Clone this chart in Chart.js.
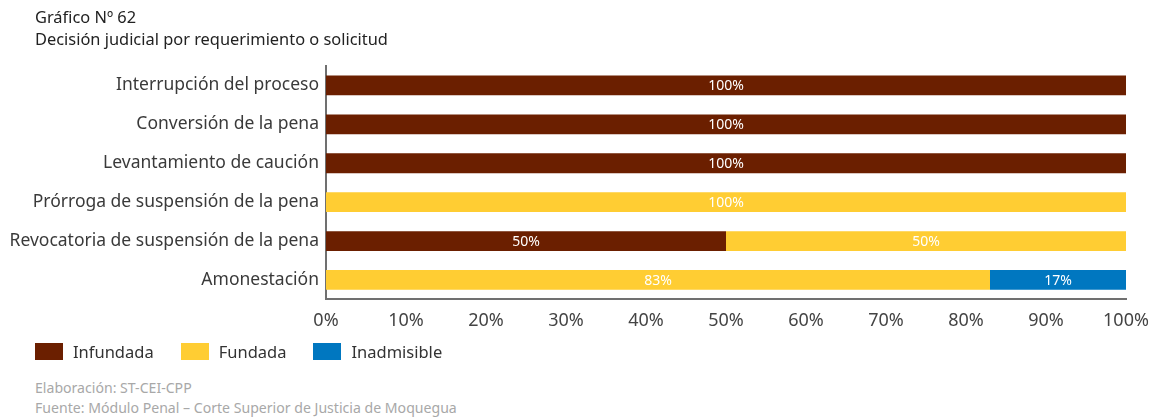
<!DOCTYPE html>
<html>
<head>
<meta charset="utf-8">
<script src="https://cdn.jsdelivr.net/npm/chart.js@4.4.1/dist/chart.umd.min.js"></script>
<style>
  body { margin: 0; background: #fff; font-family: "Noto Sans", sans-serif; }
  #wrap { position: relative; width: 1156px; height: 418px; }
  .txt { position: absolute; left: 35px; white-space: nowrap; }
  #t1 { top: 5px; font-size: 16.4px; color: #222; }
  #t2 { top: 27px; font-size: 16.4px; color: #222; }
  #f1 { top: 378px; font-size: 14.1px; color: #a8a8a8; }
  #f2 { top: 398px; font-size: 14.1px; color: #a8a8a8; }
  #legend { position: absolute; left: 35px; top: 340px; display: flex; font-size: 16.5px; color: #333; }
  #legend .item { display: flex; align-items: center; margin-right: 27px; }
  #legend .box { width: 28px; height: 17px; margin-right: 10px; }
  canvas { position: absolute; left: 0; top: 0; }
</style>
</head>
<body>
<div id="wrap">
  <canvas id="chartBar" width="1156" height="347"></canvas>
  <div class="txt" id="t1">Gráfico Nº 62</div>
  <div class="txt" id="t2">Decisión judicial por requerimiento o solicitud</div>
  <div id="legend"></div>
  <div class="txt" id="f1">Elaboración: ST-CEI-CPP</div>
  <div class="txt" id="f2">Fuente: Módulo Penal – Corte Superior de Justicia de Moquegua</div>
</div>
<script>
var categories = [
    "Interrupción del proceso",
    "Conversión de la pena",
    "Levantamiento de caución",
    "Prórroga de suspensión de la pena",
    "Revocatoria de suspensión de la pena",
    "Amonestación"
];
var infundada = [100, 100, 100, 0, 50, 0];
var fundada = [0, 0, 0, 100, 50, 83];
var inadmisible = [0, 0, 0, 0, 0, 17];
var xTicks = [0, 10, 20, 30, 40, 50, 60, 70, 80, 90, 100];

var fontFamily = '"Noto Sans", sans-serif';

// etiquetas blancas dentro de cada barra
var barLabels = {
    id: 'barLabels',
    afterDatasetsDraw: function (chart) {
        var ctx = chart.ctx;
        ctx.save();
        ctx.font = '14px ' + fontFamily;
        ctx.fillStyle = '#ffffff';
        ctx.textAlign = 'center';
        ctx.textBaseline = 'middle';
        chart.data.datasets.forEach(function (ds, i) {
            var meta = chart.getDatasetMeta(i);
            meta.data.forEach(function (el, j) {
                var v = ds.data[j];
                if (!v) return;
                ctx.fillText(v + '%', (el.x + el.base) / 2, el.y + 1);
            });
        });
        ctx.restore();
    }
};

var ctx = document.getElementById('chartBar').getContext('2d');
var chart = new Chart(ctx, {
    type: 'bar',
    data: {
        labels: categories,
        datasets: [
            { label: 'Infundada', data: infundada, backgroundColor: '#6b1f00' },
            { label: 'Fundada', data: fundada, backgroundColor: '#ffcd33' },
            { label: 'Inadmisible', data: inadmisible, backgroundColor: '#0077c0' }
        ]
    },
    options: {
        indexAxis: 'y',
        responsive: false,
        animation: false,
        datasets: { bar: { categoryPercentage: 0.51, barPercentage: 1 } },
        layout: { padding: { top: 66, left: 8, right: 0, bottom: 4 } },
        plugins: {
            title: { display: false },
            tooltip: { enabled: false },
            legend: { display: false }
        },
        scales: {
            x: {
                stacked: true,
                min: 0,
                max: 100,
                afterBuildTicks: function (axis) {
                    axis.ticks = xTicks.map(function (v) { return { value: v }; });
                },
                afterFit: function (axis) { axis.paddingRight = 30; },
                grid: { display: false, drawTicks: false },
                border: { display: true, color: '#707070', width: 2 },
                ticks: {
                    padding: 11,
                    color: '#444',
                    font: { family: fontFamily, size: 18 },
                    callback: function (v) { return v + '%'; }
                }
            },
            y: {
                stacked: true,
                afterFit: function (axis) { axis.width = 318; },
                grid: { display: false, drawTicks: false },
                border: { display: true, color: '#707070', width: 2 },
                ticks: {
                    padding: 7,
                    color: '#3a3a3a',
                    font: { family: fontFamily, size: 17.5 }
                }
            }
        }
    },
    plugins: [barLabels]
});

// leyenda
var legendEl = document.getElementById('legend');
chart.data.datasets.forEach(function (ds) {
    var item = document.createElement('div');
    item.className = 'item';
    item.innerHTML = '<span class="box" style="background:' + ds.backgroundColor + '"></span>' + ds.label;
    legendEl.appendChild(item);
});
</script>
</body>
</html>
